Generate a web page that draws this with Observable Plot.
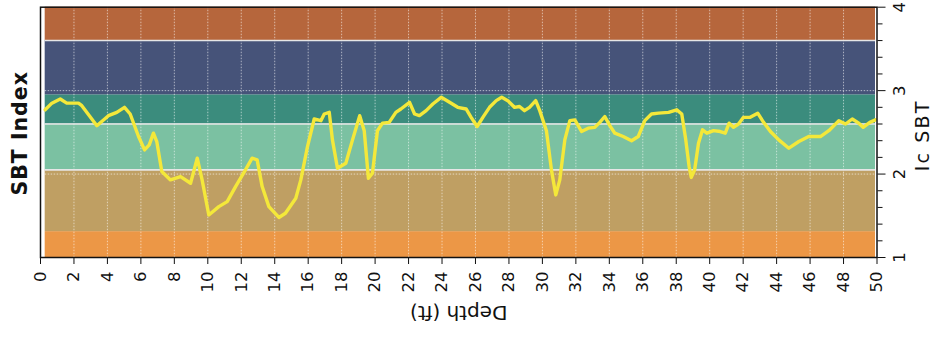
<!DOCTYPE html>
<html>
<head>
<meta charset="utf-8">
<script src="https://cdn.jsdelivr.net/npm/d3@7"></script>
<script src="https://cdn.jsdelivr.net/npm/@observablehq/plot@0.6"></script>
<style>
  html, body { margin: 0; padding: 0; background: #fff; }
  #chart svg { display: block; font-family: "DejaVu Sans", sans-serif; }
</style>
</head>
<body>
<div id="chart"></div>
<script>
// CPT profile: soil behaviour type index (Ic) against depth
const depth = [
  0.28, 0.68, 1.18, 1.57, 2.27, 2.47, 3.37, 4.06, 4.56, 5.02,
  5.36, 5.86, 6.22, 6.50, 6.75, 6.95, 7.25, 7.77, 8.37, 8.97,
  9.37, 9.66, 10.06, 10.66, 11.16, 11.66, 12.25, 12.65, 12.95, 13.25,
  13.65, 14.25, 14.64, 15.26, 15.56, 15.96, 16.36, 16.76, 16.96, 17.26,
  17.45, 17.75, 18.25, 18.65, 19.08, 19.35, 19.60, 19.84, 20.14, 20.44,
  20.84, 21.24, 21.54, 22.06, 22.36, 22.65, 23.05, 23.45, 23.95, 24.45,
  24.94, 25.44, 25.74, 26.10, 26.44, 26.84, 27.24, 27.57, 27.93, 28.33,
  28.63, 28.93, 29.23, 29.60, 29.84, 30.24, 30.54, 30.80, 31.04, 31.34,
  31.64, 31.94, 32.34, 32.74, 33.13, 33.43, 33.73, 34.03, 34.33, 34.83,
  35.33, 35.73, 36.12, 36.52, 36.94, 37.54, 38.03, 38.33, 38.57, 38.77,
  38.90, 39.10, 39.33, 39.57, 39.83, 40.23, 40.63, 40.93, 41.16, 41.42,
  41.72, 42.02, 42.42, 42.87, 43.22, 43.63, 44.13, 44.73, 45.33, 45.92,
  46.62, 47.12, 47.72, 48.12, 48.52, 48.91, 49.17, 49.57, 49.91
];
const icSbt = [
  2.77, 2.85, 2.90, 2.85, 2.85, 2.82, 2.58, 2.70, 2.74, 2.80,
  2.72, 2.45, 2.29, 2.35, 2.49, 2.39, 2.03, 1.93, 1.97, 1.89,
  2.19, 1.93, 1.51, 1.61, 1.67, 1.85, 2.05, 2.19, 2.17, 1.85,
  1.61, 1.48, 1.53, 1.71, 1.93, 2.33, 2.66, 2.64, 2.72, 2.74,
  2.41, 2.07, 2.13, 2.41, 2.70, 2.52, 1.95, 2.01, 2.52, 2.61,
  2.62, 2.74, 2.78, 2.86, 2.72, 2.70, 2.76, 2.84, 2.92, 2.86,
  2.80, 2.78, 2.68, 2.57, 2.68, 2.80, 2.88, 2.92, 2.88, 2.80,
  2.81, 2.76, 2.80, 2.88, 2.76, 2.52, 2.05, 1.75, 1.93, 2.41,
  2.64, 2.65, 2.51, 2.55, 2.56, 2.62, 2.69, 2.58, 2.49, 2.45,
  2.40, 2.45, 2.64, 2.72, 2.73, 2.74, 2.77, 2.72, 2.41, 2.09,
  1.96, 2.05, 2.37, 2.53, 2.49, 2.52, 2.51, 2.49, 2.61, 2.56,
  2.60, 2.68, 2.68, 2.73, 2.62, 2.51, 2.41, 2.31, 2.39, 2.45,
  2.45, 2.52, 2.64, 2.60, 2.66, 2.61, 2.56, 2.62, 2.65
];

// Soil behaviour type zones (Robertson Ic boundaries)
const zoneNames = ["Gravelly sand", "Sands", "Sand mixtures", "Silt mixtures", "Clays", "Organic soils"];
const zoneLow   = [1.00, 1.31, 2.05, 2.60, 2.95, 3.60];
const zoneHigh  = [1.31, 2.05, 2.60, 2.95, 3.60, 4.00];
const zoneColors = ["#ec9746", "#bf9f63", "#7bc1a2", "#3b8c7d", "#465379", "#b6663c"];
const lightBoundaries = [2.05, 2.60, 3.60];

// Axis ticks
const depthTicks = d3.range(0, 51, 2);
const icTicks = [1, 2, 3, 4];
const icMinorTicks = d3.range(1, 4.001, 0.2).map(v => +v.toFixed(1)).filter(v => !icTicks.includes(v));
const icGrid = [2, 3];

const profile = depth.map((d, i) => ({depth: d, ic: icSbt[i]}));
const zones = zoneNames.map((name, i) => ({name, low: zoneLow[i], high: zoneHigh[i]}));
const depthStart = depth[0], depthEnd = depth[depth.length - 1];

const ink = "#111";

const chart = Plot.plot({
  width: 935,
  height: 339,
  marginLeft: 40,
  marginRight: 58.5,
  marginTop: 6.7,
  marginBottom: 82,
  style: {background: "#fff", fontFamily: "DejaVu Sans, sans-serif", overflow: "visible"},
  x: {domain: [0, 50]},
  y: {domain: [1, 4]},
  color: {domain: zoneNames, range: zoneColors},
  marks: [
    // zone bands
    Plot.rect(zones, {x1: depthStart, x2: depthEnd, y1: "low", y2: "high", fill: "name"}),
    // dotted grid
    Plot.ruleX(depthTicks.filter(d => d > 0 && d < 50), {stroke: "#fff", strokeOpacity: 0.55, strokeDasharray: "1.5,1.5"}),
    Plot.ruleY(icGrid, {x1: depthStart, x2: depthEnd, stroke: "#fff", strokeOpacity: 0.6, strokeDasharray: "1.5,1.5"}),
    // zone boundaries
    Plot.ruleY(lightBoundaries, {x1: depthStart, x2: depthEnd, stroke: "#e6e6e6", strokeWidth: 1.6}),
    // Ic profile
    Plot.line(profile, {x: "depth", y: "ic", stroke: "#f4e83a", strokeWidth: 3.4, strokeLinejoin: "round"}),
    Plot.frame({stroke: ink, strokeWidth: 1.5}),
    // depth axis
    Plot.axisX(depthTicks, {tickSize: 7, stroke: ink, fill: "none", label: null}),
    Plot.text(depthTicks, {x: d => d, frameAnchor: "bottom", dy: 14, rotate: -90, textAnchor: "end", lineAnchor: "middle", fontSize: 16.5, fill: ink}),
    Plot.text(["Depth (ft)"], {frameAnchor: "bottom", dy: 55, rotate: 180, textAnchor: "middle", lineAnchor: "middle", fontSize: 20, fill: ink}),
    // Ic axis on the right
    Plot.axisY(icTicks, {anchor: "right", tickSize: 8, stroke: ink, fill: "none", label: null}),
    Plot.axisY(icMinorTicks, {anchor: "right", tickSize: 5, stroke: ink, fill: "none", label: null}),
    Plot.text(icTicks, {y: d => d, frameAnchor: "right", dx: 23, rotate: -90, textAnchor: "middle", lineAnchor: "middle", fontSize: 16.5, fill: ink}),
    Plot.text(["Ic SBT"], {frameAnchor: "right", dx: 46, dy: 3, rotate: -90, textAnchor: "middle", lineAnchor: "middle", fontSize: 19, fill: ink}),
    // left title
    Plot.text(["SBT Index"], {frameAnchor: "left", dx: -20, dy: 1, rotate: -90, textAnchor: "middle", lineAnchor: "middle", fontSize: 20.5, fontWeight: "bold", fill: ink})
  ]
});

// widen the spacing of the side titles
d3.select(chart).selectAll("text")
  .filter(function() { return this.textContent === "Ic SBT"; })
  .attr("letter-spacing", 2.2);
d3.select(chart).selectAll("text")
  .filter(function() { return this.textContent === "SBT Index"; })
  .attr("letter-spacing", 1);

document.getElementById("chart").append(chart);
</script>
</body>
</html>
